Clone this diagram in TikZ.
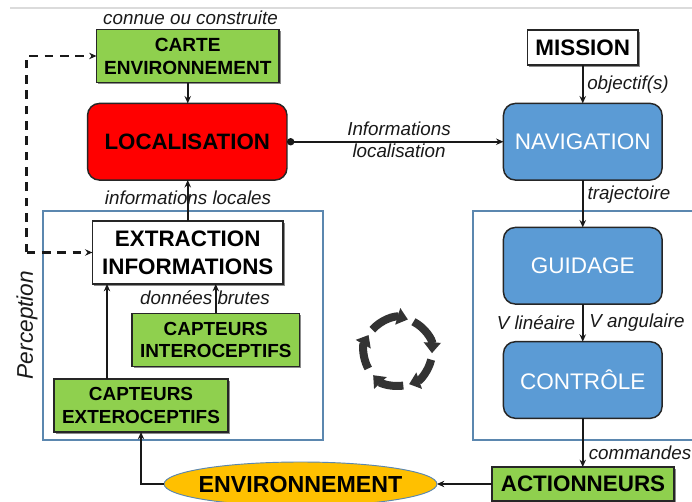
\documentclass[tikz,border=0pt]{standalone}
\usepackage{fontspec}
\setmainfont{Liberation Sans}
\usetikzlibrary{arrows.meta,shapes.geometric,shadows,positioning}
\definecolor{gr}{HTML}{8FD04E}
\definecolor{bl}{HTML}{5B9BD5}
\definecolor{fr}{HTML}{5B87AF}
\definecolor{go}{HTML}{FFC000}
\definecolor{ic}{HTML}{333333}
\tikzset{
  x=0.75pt,y=-0.75pt,
  shad/.style={drop shadow={shadow xshift=1.2pt,shadow yshift=-1.2pt,opacity=.45,fill=black}},
  boxbase/.style={draw=black!85,line width=1.1pt,inner sep=0pt,outer sep=0pt,align=center,text=black,font=\bfseries},
  greenbox/.style={boxbase,fill=gr,shad,font=\fontsize{14.3}{17.2}\selectfont\bfseries},
  whitebox/.style={boxbase,fill=white,shad,font=\fontsize{16.8}{21}\selectfont\bfseries},
  bluebox/.style={boxbase,fill=bl,rounded corners=9pt,text=white,minimum width=119pt,minimum height=57.5pt,font=\fontsize{16.9}{20}\selectfont},
  lab/.style={inner sep=0pt,font=\fontsize{14.1}{17}\selectfont\itshape,text=black!90},
  frameb/.style={draw=fr,line width=1.5pt},
  conn/.style={line width=1.4pt,black!90,-{Stealth[length=5.5pt,width=4.8pt]}},
  dconn/.style={conn,line width=1.6pt,dash pattern=on 6.5pt off 5pt},
  cyc/.style={ic,line width=6pt,-{Triangle[length=8pt,width=12.5pt]}},
}
\begin{document}
\begin{tikzpicture}
\clip (0,0) rectangle (692,502);
\fill[white] (0,0) rectangle (692,502);
\draw[black!14,line width=0.9pt] (10,8) -- (692,8);
% frames
\draw[frameb] (43,211) rectangle (322.5,440);
\draw[frameb] (692,211) -- (473,211) -- (473,440) -- (692,440);
% nodes
\node[greenbox,minimum width=136.9pt,minimum height=39.8pt] (carte) at (187.75,56) {CARTE\\ENVIRONNEMENT};
\node[boxbase,fill=red,rounded corners=9pt,minimum width=149.6pt,minimum height=57.5pt,font=\fontsize{16.7}{20}\selectfont\bfseries] (loc) at (187.25,141.75) {LOCALISATION};
\node[whitebox,minimum width=143pt,minimum height=47.2pt] (extr) at (187.75,252.5) {EXTRACTION\\INFORMATIONS};
\node[greenbox,font=\fontsize{14.2}{17.2}\selectfont\bfseries,minimum width=125.6pt,minimum height=39.8pt] (intero) at (215.75,340) {CAPTEURS\\INTEROCEPTIFS};
\node[greenbox,font=\fontsize{14.2}{17.2}\selectfont\bfseries,minimum width=130.5pt,minimum height=39.8pt] (extero) at (141,405.5) {CAPTEURS\\EXTEROCEPTIFS};
\node[whitebox,minimum width=82.9pt,minimum height=26.3pt] (mission) at (582.75,47.5) {MISSION};
\node[bluebox] (nav) at (582.75,141.75) {NAVIGATION};
\node[bluebox] (gui) at (582.75,265.75) {GUIDAGE};
\node[bluebox] (con) at (582.75,380) {CONTRÔLE};
\node[greenbox,minimum width=136.5pt,minimum height=25.5pt,font=\fontsize{16.8}{20}\selectfont\bfseries] (act) at (583,484) {ACTIONNEURS};
\node[ellipse,draw=fr,line width=0.7pt,fill=go,inner sep=0pt,outer sep=0pt,minimum width=204.7pt,minimum height=33pt,font=\fontsize{17.4}{20}\selectfont\bfseries] (env) at (300.5,484) {\smash{\makebox[0pt][c]{\raisebox{-0.36em}{ENVIRONNEMENT}}}};
% labels
\node[lab] at (190.5,18) {connue ou construite};
\node[lab] at (188,198) {informations locales};
\node[lab] at (205,298) {données brutes};
\node[lab] at (399,129) {Informations};
\node[lab] at (399,151) {localisation};
\node[lab] at (628,85) {objectif(s)};
\node[lab] at (629,195) {trajectoire};
\node[lab] at (536,322.5) {V linéaire};
\node[lab] at (637,323) {V angulaire};
\node[lab] at (640,453) {commandes};
\node[lab,rotate=90,font=\fontsize{17}{20}\selectfont\itshape] at (27,325) {Perception};
% connectors
\draw[conn] (carte.south) -- (carte.south |- loc.north);
\draw[conn] (extr.north) -- (extr.north |- loc.south);
\draw[conn,{Circle[length=5.5pt]}-{Stealth[length=5.5pt,width=4.8pt]}] (loc.east) -- (nav.west);
\draw[conn] (mission.south) -- (nav.north);
\draw[conn] (nav.south) -- (gui.north);
\draw[conn] (gui.south) -- (con.north);
\draw[conn] (con.south) -- (con.south |- act.north);
\draw[conn] (act.west) -- (env.east);
\draw[conn] (env.west) -| (extero.south);
\draw[conn] ([xshift=-25.5pt]extero.north) -- ([xshift=-25.5pt]extero.north |- extr.south);
\draw[conn] (intero.north) -- (intero.north |- extr.south);
\coordinate (dtop) at (26.5,56);
\coordinate (dbot) at (26.5,252.5);
\draw[dconn] (dbot) -- (dtop) -- (carte.west);
\draw[dconn] (dbot) -- (extr.west);
% cycle icon
\begin{scope}[shift={(398,352)},x=0.75pt,y=0.75pt]
\foreach \a/\b in {139/73,63/-2,-13/-71,-81/-137,-151/-210}{
  \draw[cyc] (\a:25.5pt) arc[start angle=\a,end angle=\b,radius=25.5pt];
}
\end{scope}
\end{tikzpicture}
\end{document}
